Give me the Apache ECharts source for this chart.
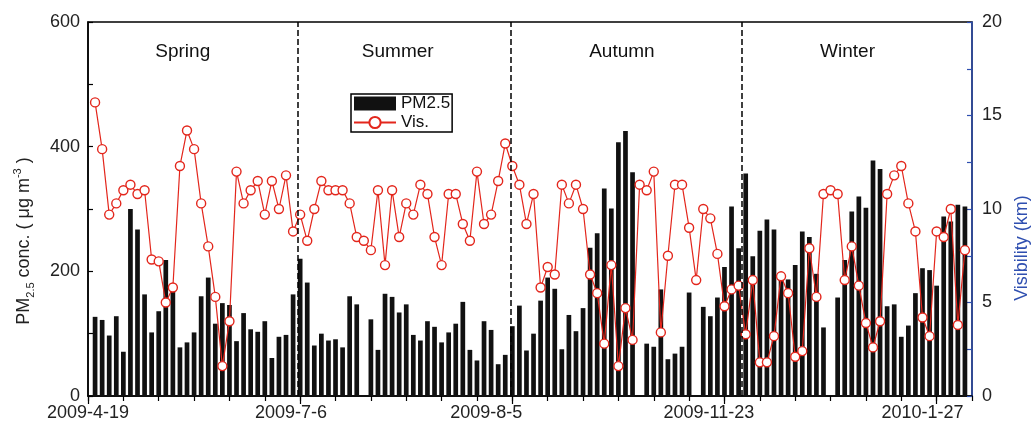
<!DOCTYPE html>
<html>
<head>
<meta charset="utf-8">
<script src="https://cdn.jsdelivr.net/npm/echarts@6/dist/echarts.min.js"></script>
<style>
  html, body { margin: 0; padding: 0; background: #fff; }
  #chart { width: 1032px; height: 430px; }
</style>
</head>
<body>
<div id="chart"></div>
<script>
// PM2.5 (ug/m3), one value per sample slot, null = no bar
const pm25 = [
  null, 127, 122, 97, 128, 71, 300, 267, 163, 102,
  136, 218, 170, 78, 86, 102, 160, 190, 116, 149,
  146, 88, 133, 107, 103, 120, 61, 95, 98, 163,
  220, 182, 81, 100, 89, 91, 78, 160, 147, null,
  123, 74, 164, 159, 134, 147, 98, 89, 120, 111,
  86, 102, 116, 151, 74, 57, 120, 106, 51, 66,
  112, 145, 73, 100, 153, 190, 172, 75, 130, 104,
  141, 238, 261, 333, 301, 407, 425, 359, null, 84,
  79, 171, 59, 68, 79, 166, null, 143, 128, 158,
  207, 304, 237, 357, 224, 265, 283, 267, 190, 187,
  210, 264, 255, 196, 110, null, 158, 218, 296, 320,
  302, 378, 364, 144, 147, 95, 113, 165, 205, 202,
  177, 288, 280, 307, 304, null
];

// visibility (km)
const visibility = [
  null, 15.7, 13.2, 9.7, 10.3, 11.0, 11.3, 10.8, 11.0, 7.3,
  7.2, 5.0, 5.8, 12.3, 14.2, 13.2, 10.3, 8.0, 5.3, 1.6,
  4.0, 12.0, 10.3, 11.0, 11.5, 9.7, 11.5, 10.0, 11.8, 8.8,
  9.7, 8.3, 10.0, 11.5, 11.0, 11.0, 11.0, 10.3, 8.5, 8.3,
  7.8, 11.0, 7.0, 11.0, 8.5, 10.3, 9.7, 11.3, 10.8, 8.5,
  7.0, 10.8, 10.8, 9.2, 8.3, 12.0, 9.2, 9.7, 11.5, 13.5,
  12.3, 11.3, 9.2, 10.8, 5.8, 6.9, 6.5, 11.3, 10.3, 11.3,
  10.0, 6.5, 5.5, 2.8, 7.0, 1.6, 4.7, 3.0, 11.3, 11.0,
  12.0, 3.4, 7.5, 11.3, 11.3, 9.0, 6.2, 10.0, 9.5, 7.6,
  4.8, 5.7, 5.9, 3.3, 6.2, 1.8, 1.8, 3.2, 6.4, 5.5,
  2.1, 2.4, 7.9, 5.3, 10.8, 11.0, 10.8, 6.2, 8.0, 5.9,
  3.9, 2.6, 4.0, 10.8, 11.8, 12.3, 10.3, 8.8, 4.2, 3.2,
  8.8, 8.5, 10.0, 3.8, 7.8, null
];

const dateLabels = ['2009-4-19', '2009-7-6', '2009-8-5', '2009-11-23', '2010-1-27'];
const dateLabelAt = [0, 28.7, 56.3, 87.8, 118];
const majorTicks = [0, 30, 60, 90, 120];

const seasons = ['Spring', 'Summer', 'Autumn', 'Winter'];
const seasonBreaks = [29.6, 59.8, 92.5];
const seasonLabelAt = [13.4, 43.8, 75.5, 107.4];

const RED = '#e3261c';
const BLUE = '#2f4fb0';
const FONT = 'Liberation Sans, Arial, sans-serif';

const chart = echarts.init(document.getElementById('chart'));

const pmData = pm25.map((v, i) => [i, v]);
const visData = visibility.map((v, i) => [i, v]);

chart.setOption({
  animation: false,
  textStyle: { fontFamily: FONT },
  grid: {
    left: 88, right: 60, top: 22, bottom: 34,
    outerBoundsMode: 'none',
    show: true, borderColor: '#000', borderWidth: 1.5
  },
  legend: {
    left: 351, top: 94,
    orient: 'vertical',
    itemWidth: 42, itemHeight: 14, itemGap: 2,
    padding: [1, 2, 1, 2],
    borderColor: '#000', borderWidth: 1.5,
    textStyle: { fontSize: 17, color: '#111', fontFamily: FONT },
    data: [
      { name: 'PM2.5', icon: 'rect' },
      { name: 'Vis.' }
    ]
  },
  xAxis: [
    {
      type: 'value', min: 0, max: 125, interval: 5,
      splitLine: { show: false },
      axisLine: { onZero: false, lineStyle: { color: '#000', width: 1.5 } },
      axisTick: { length: 5, lineStyle: { color: '#000', width: 1.2 } },
      axisLabel: { show: false }
    },
    {
      type: 'value', min: 0, max: 125, position: 'bottom',
      splitLine: { show: false },
      axisLine: { show: false, onZero: false },
      axisTick: { length: 8, customValues: majorTicks, lineStyle: { color: '#000', width: 1.2 } },
      axisLabel: {
        customValues: dateLabelAt,
        formatter: v => dateLabels[dateLabelAt.indexOf(v)] || '',
        fontSize: 18, color: '#222', margin: 8, fontFamily: FONT
      }
    }
  ],
  yAxis: [
    {
      type: 'value', min: 0, max: 600, interval: 200,
      splitLine: { show: false },
      axisLine: { show: true, onZero: false, lineStyle: { color: '#000', width: 1.5 } },
      axisTick: { show: true, inside: true, length: 5, lineStyle: { color: '#000', width: 1.2 } },
      minorTick: { show: true, splitNumber: 2, length: 5, lineStyle: { color: '#000', width: 1.2 } },
      axisLabel: { fontSize: 18, color: '#222', margin: 8, fontFamily: FONT },
      name: '{a|PM}{s|2.5}{a| conc. ( μg m}{p|-3}{a| )}',
      nameLocation: 'middle', nameRotate: 90, nameGap: 52,
      nameTextStyle: {
        color: '#222', padding: [0, 64, 0, 0],
        rich: {
          a: { fontSize: 18, lineHeight: 24, fontFamily: FONT, color: '#222' },
          s: { fontSize: 11, lineHeight: 24, verticalAlign: 'bottom', fontFamily: FONT, color: '#222' },
          p: { fontSize: 11, lineHeight: 24, verticalAlign: 'top', fontFamily: FONT, color: '#222' }
        }
      }
    },
    {
      type: 'value', min: 0, max: 20, interval: 5, position: 'right',
      splitLine: { show: false },
      axisLine: { show: true, onZero: false, lineStyle: { color: BLUE, width: 1.5 } },
      axisTick: { show: true, inside: true, length: 5, lineStyle: { color: BLUE, width: 1.2 } },
      minorTick: { show: true, splitNumber: 2, length: 5, lineStyle: { color: BLUE, width: 1.2 } },
      axisLabel: { fontSize: 18, color: '#222', margin: 10, fontFamily: FONT },
      name: 'Visibility (km)',
      nameLocation: 'middle', nameRotate: 90, nameGap: 40,
      nameTextStyle: { color: BLUE, fontSize: 18, padding: [0, 78, 0, 0], fontFamily: FONT }
    }
  ],
  series: [
    {
      name: 'PM2.5',
      type: 'bar',
      xAxisIndex: 0, yAxisIndex: 0,
      barWidth: 4.7,
      itemStyle: { color: '#111' },
      data: pmData,
      markLine: {
        silent: true,
        symbol: 'none',
        label: { show: false },
        lineStyle: { color: '#000', type: [6, 3], width: 1.5 },
        data: seasonBreaks.map(x => ({ xAxis: x }))
      },
      markPoint: {
        silent: true,
        symbol: 'rect', symbolSize: 1,
        itemStyle: { color: 'rgba(0,0,0,0)' },
        label: { show: true, formatter: '{b}', fontSize: 19, color: '#111', fontFamily: FONT },
        data: seasons.map((s, k) => ({ name: s, coord: [seasonLabelAt[k], 552] }))
      }
    },
    {
      name: 'Vis.',
      type: 'line',
      xAxisIndex: 0, yAxisIndex: 1,
      symbol: 'circle', symbolSize: 9,
      itemStyle: { color: '#fff', borderColor: RED, borderWidth: 1.4 },
      lineStyle: { color: RED, width: 1.2 },
      data: visData,
      z: 3
    }
  ]
});
</script>
</body>
</html>
